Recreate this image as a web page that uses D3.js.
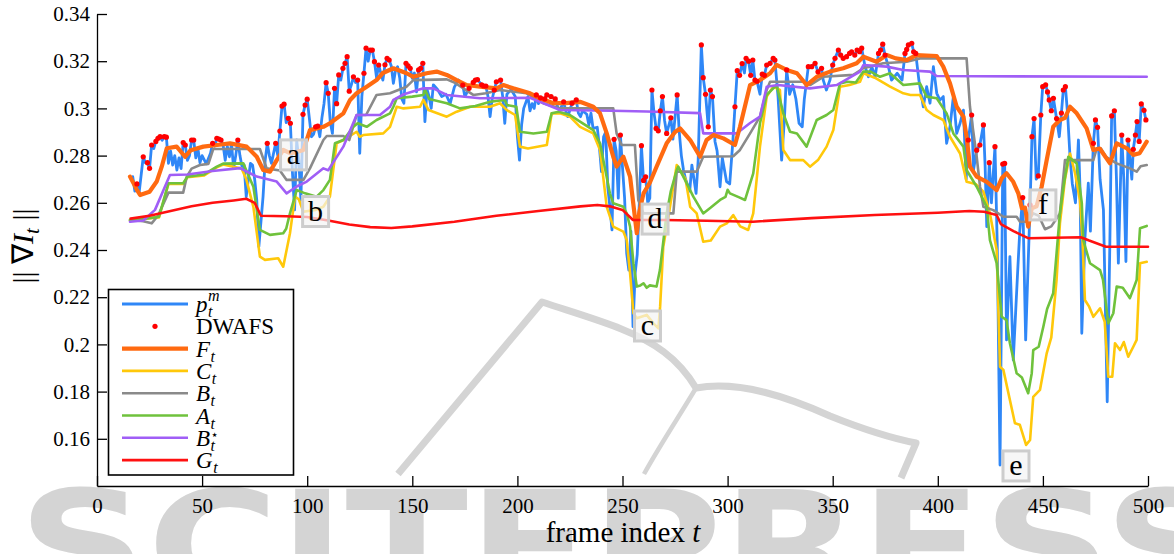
<!DOCTYPE html>
<html>
<head>
<meta charset="utf-8">
<script src="https://cdn.jsdelivr.net/npm/d3@7"></script>
<style>
  html, body { margin: 0; padding: 0; background: #fff; overflow: hidden; }
  svg { display: block; }
</style>
</head>
<body>
<svg id="chart" width="1174" height="554"></svg>
<script>
// ---------------- data ----------------
const frameTicks = [0, 50, 100, 150, 200, 250, 300, 350, 400, 450, 500];
const valueTicks = [0.16, 0.18, 0.2, 0.22, 0.24, 0.26, 0.28, 0.3, 0.32, 0.34];

// per-frame maximum p_t^m  [frame, value]
const seriesP = [
  [17,.2711],[18,.2650],[19,.2680],[20,.2640],[22,.2795],[23,.2770],[24,.2770],[25,.2746],[26,.2845],[27,.2830],
  [28,.2860],[29,.2873],[30,.2880],[31,.2865],[32,.2880],[33,.2878],[34,.2767],[35,.2820],[36,.2760],[37,.2800],
  [38,.2739],[39,.2790],[40,.2745],[41,.2855],[42,.2845],[43,.2780],[44,.2800],[45,.2866],[46,.2866],[47,.2790],
  [48,.2830],[49,.2770],[50,.2800],[52,.2765],[54,.2810],[55,.2852],[56,.2840],[57,.2873],[58,.2870],[59,.2866],
  [60,.2845],[61,.2780],[62,.2840],[63,.2795],[64,.2850],[65,.2745],[66,.2800],[67,.2866],[68,.2800],[69,.2753],
  [70,.2760],[71,.2626],[72,.2700],[73,.2767],[74,.2760],[75,.2700],[76,.2612],[77,.2414],[78,.2520],[79,.2626],
  [80,.2780],[81,.2852],[82,.2800],[83,.2767],[84,.2810],[85,.2852],[86,.2800],[87,.2904],[88,.3010],[89,.3018],
  [90,.2940],[91,.2958],[92,.2937],[93,.2725],[94,.2570],[95,.2866],[96,.2780],[97,.2612],[98,.2975],[99,.3014],
  [100,.3039],[101,.2960],[102,.2880],[103,.2890],[104,.2922],[105,.2925],[106,.2880],[107,.2960],[108,.3020],[109,.3109],
  [110,.3064],[111,.2940],[112,.2894],[113,.3085],[114,.3020],[115,.3142],[116,.3120],[117,.3170],[118,.3191],[119,.3219],
  [120,.3073],[121,.3100],[122,.3134],[123,.3110],[124,.3120],[125,.2810],[126,.3050],[127,.3149],[128,.3255],[129,.3200],
  [130,.3247],[131,.3247],[132,.3198],[133,.3130],[134,.3184],[135,.3150],[136,.3120],[137,.3185],[138,.3212],[139,.3205],
  [140,.3180],[141,.3106],[142,.3160],[143,.3177],[144,.3130],[145,.3040],[146,.3022],[147,.3191],[148,.3180],[149,.3170],
  [150,.3127],[151,.3150],[152,.3070],[153,.3163],[154,.3170],[155,.3191],[156,.2944],[157,.3080],[158,.3050],[159,.3000],
  [160,.3100],[162,.3080],[164,.3050],[166,.3060],[168,.3020],[170,.3090],[172,.3120],[174,.3099],[175,.3050],[177,.3085],
  [179,.3110],[180,.3120],[181,.3122],[183,.3100],[184,.3095],[185,.3095],[186,.3050],[187,.2965],[188,.3040],[189,.3078],
  [190,.3113],[192,.3120],[193,.3050],[194,.2937],[195,.3060],[197,.3080],[199,.3050],[200,.2880],[201,.2781],[202,.2930],
  [203,.3000],[205,.3050],[206,.2990],[207,.3020],[208,.3000],[209,.3057],[210,.3020],[211,.3045],[213,.3040],[214,.3057],
  [216,.3050],[218,.3040],[219,.3010],[220,.2990],[222,.3028],[223,.2990],[224,.2965],[226,.3022],[228,.3036],[229,.2980],
  [230,.2965],[231,.2990],[233,.2975],[234,.2930],[235,.2980],[236,.2915],[238,.2920],[239,.2838],[240,.2732],[241,.2880],
  [242,.2900],[243,.2668],[244,.2583],[245,.2485],[246,.2869],[247,.2820],[248,.2620],[249,.2887],[250,.2750],[251,.2620],
  [252,.2386],[253,.2315],[254,.2480],[255,.2075],[256,.2300],[257,.2380],[258,.2600],[259,.2842],[260,.2695],[261,.2710],
  [262,.2600],[263,.2620],[264,.3078],[265,.2980],[266,.2915],[267,.2905],[268,.2990],[269,.3050],[270,.2950],[271,.2894],
  [273,.2960],[274,.2870],[276,.3057],[277,.2900],[278,.2800],[279,.2740],[280,.2700],[282,.2650],[283,.2760],[285,.2640],
  [286,.2780],[287.5,.3269],[288.4,.3130],[289.5,.3060],[290.8,.2922],[291.8,.3078],[292.8,.3050],[294,.2860],[295,.2820],[296.4,.2668],
  [297.5,.2790],[298.5,.2740],[299.5,.2690],[301,.2680],[302.5,.2860],[303.5,.3007],[304.6,.3160],[305.7,.3140],[306.9,.3190],[308,.3150],
  [308.8,.3212],[310,.3200],[311,.3140],[312,.3205],[313,.3120],[314,.3115],[315.4,.3060],[316.5,.3145],[317.5,.3140],[318.6,.3184],
  [320.2,.3191],[321.7,.3212],[322.5,.3205],[324,.3050],[325.7,.2781],[327,.2950],[328.1,.3163],[329.5,.3060],[331,.3100],[332.5,.3040],
  [334,.2937],[335.5,.2922],[336.5,.3040],[338.4,.3177],[340,.3177],[341.6,.3191],[343,.3155],[344.7,.3170],[345.5,.3120],[347,.3078],
  [348.7,.3120],[350,.3184],[351.1,.3212],[352.7,.3247],[353.8,.3226],[355,.3212],[356.6,.3219],[358,.3233],[359,.3240],[360.5,.3226],
  [361.6,.3247],[362.8,.3240],[363.8,.3255],[365.4,.3177],[367,.3134],[368.6,.3177],[370.2,.3134],[371.8,.3233],[372.8,.3247],[373.8,.3272],
  [374.9,.3226],[376.5,.3177],[378,.3120],[380.7,.3149],[383,.3120],[384.4,.3233],[385.2,.3250],[386,.3269],[387.6,.3276],[388.5,.3240],
  [389.5,.3233],[391,.3120],[393.1,.3007],[394.7,.3092],[396.3,.3022],[397.9,.3177],[399.5,.3064],[401,.3035],[402.6,.3050],[404.2,.2852],
  [405.8,.2922],[407.4,.3050],[409,.2894],[410.6,.2937],[412.2,.2993],[413.5,.2700],[414.5,.2866],[416.1,.2972],[417,.2740],[418.5,.2823],
  [420,.2845],[421.7,.2930],[422.5,.2760],[423.3,.2499],[424.5,.2770],[425.5,.2600],[427.2,.2838],[428.3,.2414],[429.6,.1489],[430.9,.2764],
  [431.8,.2767],[432.7,.2019],[434.3,.2372],[435.9,.1934],[438,.2310],[439,.2480],[440.4,.2622],[441.8,.2019],[443.9,.2591],[444.8,.2880],
  [445.8,.2957],[446.8,.2700],[447.8,.2714],[449,.2972],[449.9,.3092],[451.3,.3100],[452.2,.3070],[453,.3036],[454,.2990],[455,.3043],
  [456.5,.2957],[457.8,.2880],[458.8,.2980],[459.7,.3078],[460.7,.3092],[461.8,.2970],[462.9,.2795],[464,.2680],[465.5,.2600],[466.9,.2866],
  [467.7,.2650],[468.5,.2047],[470,.2450],[471.6,.2683],[472.6,.2480],[474,.2852],[475,.2951],[476,.2920],[477.2,.2700],[478.8,.2570],
  [480.6,.1757],[481.8,.2400],[482.7,.2968],[484,.2990],[485,.2700],[485.9,.2344],[487.5,.2887],[488.5,.2700],[489.5,.2351],[490.5,.2866],
  [491.5,.2780],[492.3,.2700],[493,.2827],[494,.2887],[494.8,.2944],[495.8,.2860],[496.8,.3019],[498.1,.2992],[499,.2951]
];

// frames picked by DWAFS (values taken from p_t^m)
const dwafsFrames = [
  19,22,24,25,26,28,29,30,32,33,41,42,45,46,55,57,58,59,67,81,85,87,88,89,91,92,98,99,100,104,105,109,110,
  113,114,115,117,118,119,120,122,124,127,128,130,131,132,134,137,138,139,147,148,149,153,154,155,174,177,
  179,180,181,183,184,185,189,190,192,209,211,213,214,216,218,222,226,228,246,249,259,260,261,264,266,267,
  268,269,271,273,276,287.5,288.4,289.5,290.8,291.8,292.8,303.5,304.6,305.7,306.9,308.8,310,311,312,313,314,
  316.5,317.5,318.6,320.2,321.7,322.5,328.1,338.4,340,341.6,343,344.7,350,351.1,352.7,353.8,355,356.6,358,
  359,360.5,361.6,362.8,363.8,371.8,372.8,373.8,374.9,384.4,385.2,386,387.6,388.5,389.5,414.5,416.1,418.5,
  420,421.7,424.5,427.2,430.9,431.8,440.4,443.9,444.8,445.8,447.8,449,449.9,451.3,452.2,453,454,455,456.5,
  458.8,459.7,460.7,474,475,476,482.7,484,487.5,490.5,493,494,494.8,495.8,496.8,498.1,499
];

const seriesF = [
  [15.7,.2711],[19,.2655],[20.5,.2633],[25,.2647],[28.4,.2690],[30.8,.2753],[33.2,.2831],[37.9,.2838],[41.9,.2795],[44.6,.2823],
  [50.6,.2838],[57,.2845],[63.3,.2852],[71.2,.2838],[76,.2795],[79.1,.2739],[82.3,.2732],[85.5,.2781],[88.6,.2824],[91.8,.2810],
  [95,.2815],[98.2,.2824],[101.3,.2908],[107.7,.2922],[110.8,.2937],[117.2,.2979],[120.4,.3036],[123.5,.3064],[128.3,.3092],[133,.3120],
  [136,.3150],[141,.3170],[147.3,.3149],[150.5,.3134],[156.8,.3149],[161.6,.3156],[166.4,.3142],[171.1,.3120],[175.9,.3099],[182.2,.3092],
  [190,.3085],[193.3,.3099],[198,.3085],[206,.3064],[210.8,.3043],[217.1,.3022],[223,.3022],[229.8,.3028],[236.1,.3007],[239.3,.2979],
  [242.5,.2894],[245.6,.2795],[247.2,.2753],[250.4,.2795],[253.6,.2711],[256.8,.2471],[258,.2560],[260,.2640],[263,.2685],[266.2,.2753],
  [271,.2852],[275,.2900],[277.4,.2915],[282.2,.2866],[286.9,.2795],[290,.2866],[293.2,.2887],[298,.2873],[303.5,.2845],[305.9,.2922],
  [310.7,.3099],[315.4,.3120],[320.2,.3149],[323.3,.3184],[328.1,.3163],[333,.3149],[337.6,.3099],[342.4,.3134],[348.7,.3156],[355,.3170],
  [361.4,.3191],[364.6,.3219],[370.9,.3198],[375.7,.3226],[380,.3212],[385.2,.3205],[389.8,.3226],[399.5,.3222],[402.6,.3177],[405.8,.3106],
  [409,.3007],[412.2,.2965],[413.7,.2880],[415.3,.2753],[418.5,.2711],[423.3,.2689],[428,.2654],[430.4,.2704],[432.7,.2725],[435.9,.2689],
  [438.3,.2640],[440,.2577],[441.5,.2580],[443,.2499],[444.7,.2577],[447,.2585],[449.4,.2668],[451.8,.2781],[454.9,.2922],[458.1,.2951],
  [460.5,.2960],[462.9,.3007],[466.1,.2979],[470.8,.2915],[474,.2824],[477,.2830],[481.9,.2767],[485.1,.2852],[490,.2831],[493,.2803],
  [496,.2810],[499.4,.2859]
];

const seriesC = [
  [15.7,.2525],[25,.2535],[29.5,.2538],[34,.2680],[41,.2680],[43,.2708],[51,.2716],[57,.2750],[60,.2762],[68.8,.2745],
  [71,.2700],[74.4,.2583],[77.5,.2372],[79.9,.2358],[86.2,.2365],[88.6,.2329],[91.8,.2471],[94.2,.2626],[96,.2615],[98.2,.2562],
  [104,.2570],[107.7,.2583],[110.8,.2626],[114,.2852],[117.2,.2866],[123.5,.2901],[125,.2880],[126.7,.2887],[136.2,.2894],[139.4,.2922],
  [142.6,.3007],[145.8,.3000],[153.7,.3007],[155.3,.3036],[157.7,.2993],[166.4,.2965],[171.1,.2986],[177.5,.3007],[187,.3007],[191.7,.3022],
  [195,.2993],[198.9,.2972],[201.2,.2838],[205,.2830],[214,.2845],[216.3,.2979],[220.3,.2979],[225,.2965],[229.8,.2922],[236.1,.2894],
  [239.3,.2824],[242.5,.2583],[245.6,.2499],[250.4,.2478],[252,.2442],[253.6,.2301],[255.2,.2132],[256.8,.2111],[261.5,.2125],[264.7,.2089],
  [267.1,.2068],[267.9,.2160],[269.4,.2414],[272.6,.2583],[275.8,.2760],[280,.2700],[282.2,.2583],[285.3,.2555],[288.4,.2435],[292,.2440],
  [296.4,.2499],[299.6,.2513],[302.7,.2548],[306,.2500],[309.8,.2485],[312.2,.2555],[315.4,.2838],[318.6,.3050],[321.7,.3092],[324.9,.3078],
  [326.5,.2824],[329.7,.2781],[336,.2781],[339.2,.2753],[343,.2781],[347.1,.2838],[350.3,.2908],[353.5,.3092],[358,.3099],[363,.3113],
  [364.6,.3149],[370,.3130],[377.3,.3092],[383.6,.3064],[387,.3057],[391.5,.3057],[394.7,.2993],[397.9,.2972],[402.6,.2951],[405.8,.2880],
  [410.6,.2809],[413.7,.2689],[418,.2680],[421.7,.2647],[424.8,.2555],[428,.2400],[429.6,.1905],[431.2,.1892],[434.3,.1764],[436.7,.1666],
  [439,.1660],[442,.1574],[443.9,.1595],[445.4,.1778],[448.6,.1807],[451.8,.1962],[454,.2030],[456.5,.2273],[458.1,.2513],[460.5,.2700],
  [462.9,.2809],[465.3,.2725],[467.6,.2612],[468.8,.2450],[470,.2188],[472,.2160],[474,.2117],[477.2,.2153],[479.4,.2096],[481.1,.1863],
  [483,.1863],[484.3,.2005],[486.7,.1976],[488.5,.2010],[490.6,.1948],[493,.1990],[494.6,.2019],[496.2,.2344],[499.4,.2350]
];

const seriesB = [
  [15.7,.2527],[22,.2522],[26,.2513],[29,.2545],[34,.2643],[41,.2643],[42.7,.2711],[45,.2745],[49,.2760],[53,.2765],
  [55.3,.2828],[77.5,.2828],[80.7,.2746],[87,.2737],[90.2,.2697],[98.2,.2697],[101.3,.2746],[107.7,.2866],[109.3,.2883],[117.2,.2883],
  [120,.2866],[123.5,.2972],[128,.2972],[133,.3057],[139.4,.3064],[147.3,.3092],[150.5,.3120],[166.4,.3123],[170,.3110],[179,.3057],
  [185,.3064],[191.7,.3078],[204.4,.3064],[212.3,.3022],[220.3,.3000],[245.6,.3000],[247.2,.2894],[249.6,.2845],[255.9,.2845],[257.5,.2612],
  [260,.2555],[274.2,.2555],[275.8,.2732],[285.3,.2732],[288.4,.2795],[302.7,.2797],[305.9,.2824],[310.7,.2894],[315.4,.2965],[318.6,.3078],
  [320.2,.3113],[336,.3113],[339.2,.3099],[345.5,.3134],[359.8,.3142],[364.6,.3170],[374,.3191],[385.2,.3198],[391.5,.3212],[413.7,.3212],
  [415.3,.3007],[418.5,.2795],[420.1,.2668],[421.7,.2583],[426.4,.2569],[431.2,.2541],[437.5,.2541],[439.1,.2520],[443,.2520],[445.4,.2555],
  [448,.2545],[451,.2488],[454,.2500],[458.1,.2555],[460.5,.2781],[474,.2781],[475.6,.2831],[477.5,.2831],[480,.2795],[485.1,.2767],
  [491.4,.2746],[494.6,.2732],[496.5,.2755],[499.4,.2760]
];

const seriesA = [
  [15.7,.2527],[25,.2535],[29.5,.2541],[34,.2683],[41,.2683],[43,.2711],[51,.2720],[57,.2753],[60,.2766],[69.6,.2767],
  [71,.2738],[74.4,.2668],[77.5,.2485],[82.3,.2464],[88.6,.2471],[90,.2490],[91.8,.2555],[95,.2654],[99,.2640],[104.5,.2626],
  [107.7,.2654],[110.8,.2697],[113.2,.2852],[117.2,.2866],[122,.2922],[124,.2937],[128.3,.2922],[133,.2951],[139.4,.2979],[141,.3007],
  [142.6,.3043],[150,.3050],[155.3,.3057],[156,.3080],[158,.3040],[166.4,.3022],[172.7,.3000],[180,.3010],[187,.3028],[194,.3036],
  [195,.3014],[199.5,.3007],[201.2,.2901],[207.6,.2894],[214,.2901],[216.3,.2979],[219.7,.2986],[225,.2972],[229.8,.2944],[236.1,.2908],
  [239.3,.2852],[244,.2640],[245.6,.2598],[250.4,.2583],[252,.2555],[253.6,.2499],[255.2,.2344],[256.8,.2245],[258.5,.2250],[260,.2259],
  [261.5,.2240],[263,.2250],[266.2,.2245],[267.8,.2315],[271,.2555],[273,.2650],[275.8,.2739],[276.5,.2753],[280.5,.2683],[283.7,.2626],
  [288.4,.2555],[292,.2580],[296.4,.2612],[299,.2625],[300,.2655],[301.1,.2640],[305,.2625],[308.3,.2612],[312.2,.2725],[315.4,.2937],
  [318.6,.3057],[323.3,.3099],[326.5,.2979],[329.7,.2901],[333,.2894],[337.6,.2838],[342.4,.2951],[347.1,.2972],[350.3,.2993],[353.5,.3106],
  [357,.3113],[361,.3110],[364.6,.3156],[368,.3156],[372.5,.3134],[377.3,.3149],[383.6,.3099],[391.5,.3106],[394.7,.3050],[399.5,.3043],
  [404.2,.2979],[407.4,.2894],[412.2,.2838],[413.7,.2739],[418.5,.2668],[423.3,.2583],[424.8,.2442],[428,.2344],[430.4,.2117],[432.7,.2103],
  [434.3,.2005],[437.5,.1878],[440,.1860],[443,.1793],[444.7,.1878],[445.4,.1976],[448,.1990],[450.2,.2075],[452,.2150],[454.9,.2217],
  [456.5,.2386],[458.1,.2555],[460,.2680],[462.1,.2795],[466.1,.2767],[468.5,.2600],[469.2,.2442],[472.4,.2344],[477.2,.2315],[478.6,.2273],
  [481.1,.2089],[483.5,.2132],[485.1,.2245],[488,.2240],[491.4,.2196],[494.6,.2273],[496.2,.2492],[499.4,.2502]
];

const seriesBstar = [
  [15.7,.2520],[22,.2525],[27.6,.2570],[34.7,.2718],[43,.2720],[55,.2735],[68,.2747],[76,.2711],[85.5,.2690],[90.2,.2640],
  [95,.2669],[99.8,.2690],[107.7,.2746],[110,.2738],[117.2,.2838],[123.5,.2972],[134.6,.2972],[139.4,.3007],[141,.3036],[146,.3060],
  [155.3,.3085],[160,.3085],[166.4,.3057],[182.2,.3043],[206,.3045],[220.3,.2993],[245,.2990],[261.5,.2987],[286.9,.2980],[288.4,.2894],
  [304.3,.2894],[310.7,.2938],[315.4,.2965],[318.6,.3092],[324,.3099],[339.2,.3085],[351.9,.3099],[363,.3156],[364.6,.3184],[375.7,.3177],
  [383.6,.3163],[396.3,.3156],[399.5,.3137],[499.4,.3134]
];

const seriesG = [
  [16,.2533],[25,.2545],[35,.2565],[45,.2585],[55,.2600],[65,.2610],[71,.2617],[75,.2600],[78,.2545],[90,.2543],
  [100,.2540],[110,.2525],[120,.2508],[130,.2497],[140,.2493],[150,.2500],[170,.2520],[190,.2545],[210,.2565],[230,.2585],
  [238,.2591],[244,.2585],[250,.2570],[255,.2527],[270,.2527],[290,.2524],[312,.2520],[340,.2535],[370,.2548],[400,.2558],
  [415,.2565],[422,.2562],[428,.2548],[430,.2510],[436,.2480],[443,.2450],[468,.2454],[472,.2440],[480,.2414],[500,.2414]
];

// marked events: letter, frame, value
const eventLetters = ["a", "b", "c", "d", "e", "f"];
const eventFrames  = [93.5, 104, 261.9, 265.5, 437.2, 450];
const eventValues  = [0.2803, 0.2563, 0.2078, 0.2531, 0.1485, 0.2591];

// legend entries: base symbol, subscript, superscript
const legendBase = ["p", "DWAFS", "F", "C", "B", "A", "B", "G"];
const legendSub  = ["t", "", "t", "t", "t", "t", "t", "t"];
const legendSup  = ["m", "", "", "", "", "", "\u22C6", ""];

// ---------------- layout & style ----------------
const W = 1174, H = 554;
const plot = { left: 97, right: 1148, top: 14, bottom: 486 };
const serif = "'Liberation Serif', 'Times New Roman', serif";
const colors = {
  P: "#2f87f7", F: "#ff6a10", C: "#ffc80a", B: "#8a8a8a",
  A: "#6fc23c", Bstar: "#a05ef6", G: "#ff1010", dot: "#ff0000"
};

const svg = d3.select("#chart");
svg.append("rect").attr("width", W).attr("height", H).attr("fill", "#fff");

const x = d3.scaleLinear().domain([0, 500]).range([plot.left, plot.right]);
const y = d3.scaleLinear().domain([0.14, 0.34]).range([plot.bottom, plot.top]);

// ---------------- publisher watermark ----------------
const wm = svg.append("g").attr("fill", "none").attr("stroke", "#d4d4d4");
wm.append("path")
  .attr("stroke-width", 7)
  .attr("stroke-linejoin", "round")
  .attr("d", "M398,474 L542,302 C590,318 636,330 664,352 C680,364 690,378 696,388 C740,380 790,398 830,416 C860,428 890,438 916,443 L901,478");
wm.append("path")
  .attr("stroke-width", 4.5)
  .attr("d", "M696,388 C680,415 660,445 644,474");
svg.append("text")
  .attr("x", 18).attr("y", 598)
  .attr("textLength", 1215).attr("lengthAdjust", "spacingAndGlyphs")
  .attr("font-family", "'DejaVu Sans', sans-serif")
  .attr("font-weight", "bold")
  .attr("font-size", 150)
  .attr("fill", "#d4d4d4")
  .text("SCITEPRESS");

// ---------------- series ----------------
const line = d3.line().x(d => x(d[0])).y(d => y(d[1]));
const lines = svg.append("g").attr("fill", "none")
  .attr("stroke-linejoin", "round").attr("stroke-linecap", "round");

function drawSeries(data, color, width) {
  lines.append("path").datum(data)
    .attr("d", line).attr("stroke", color).attr("stroke-width", width);
}
drawSeries(seriesP, colors.P, 2.8);
drawSeries(seriesC, colors.C, 2.6);
drawSeries(seriesB, colors.B, 2.6);
drawSeries(seriesA, colors.A, 2.6);
drawSeries(seriesBstar, colors.Bstar, 2.6);
drawSeries(seriesF, colors.F, 4.2);
drawSeries(seriesG, colors.G, 2.6);

const pByFrame = new Map(seriesP.map(d => [d[0], d[1]]));
const dwafsPoints = dwafsFrames.filter(f => pByFrame.has(f)).map(f => [f, pByFrame.get(f)]);
svg.append("g").selectAll("circle").data(dwafsPoints).join("circle")
  .attr("cx", d => x(d[0])).attr("cy", d => y(d[1]))
  .attr("r", 2.6).attr("fill", colors.dot);

// ---------------- event markers ----------------
const ev = svg.append("g");
eventLetters.forEach((letter, i) => {
  const cx = x(eventFrames[i]), cy = y(eventValues[i]);
  ev.append("rect")
    .attr("x", cx - 13).attr("y", cy - 15).attr("width", 26).attr("height", 30)
    .attr("fill", "#f4f4f4").attr("fill-opacity", 0.7)
    .attr("stroke", "#cdcdcd").attr("stroke-width", 3);
  ev.append("text")
    .attr("x", cx).attr("y", cy + 9)
    .attr("text-anchor", "middle")
    .attr("font-family", serif).attr("font-size", 30)
    .attr("fill", "#000")
    .text(letter);
});

// ---------------- axes ----------------
const fmt = d => String(+d.toFixed(2));
const yAxis = svg.append("g")
  .attr("transform", `translate(${plot.left},0)`)
  .call(d3.axisLeft(y).tickValues(valueTicks).tickFormat(fmt)
    .tickSizeInner(-10).tickSizeOuter(0).tickPadding(7));
const xAxis = svg.append("g")
  .attr("transform", `translate(0,${plot.bottom})`)
  .call(d3.axisBottom(x).tickValues(frameTicks).tickFormat(d => String(d))
    .tickSizeInner(-10).tickSizeOuter(0).tickPadding(12));
[yAxis, xAxis].forEach(a => {
  a.selectAll("path, line").attr("stroke", "#000").attr("stroke-width", 1.3);
  a.selectAll("text").attr("font-family", serif).attr("font-size", 21).attr("fill", "#000");
});

// x-axis title
const xt = svg.append("text")
  .attr("x", 623).attr("y", 542)
  .attr("text-anchor", "middle")
  .attr("font-family", serif).attr("font-size", 29).attr("fill", "#000");
xt.append("tspan").text("frame index ");
xt.append("tspan").attr("font-style", "italic").text("t");

// y-axis title
const yt = svg.append("text")
  .attr("transform", "translate(33,246) rotate(-90)")
  .attr("text-anchor", "middle")
  .attr("font-family", serif).attr("font-size", 30).attr("fill", "#000");
yt.append("tspan").text("|| \u2207");
yt.append("tspan").attr("font-style", "italic").text("I");
yt.append("tspan").attr("font-style", "italic").attr("font-size", 21).attr("dy", 6).text("t");
yt.append("tspan").attr("dy", -6).text(" ||");

// ---------------- legend ----------------
const lg = svg.append("g");
lg.append("rect")
  .attr("x", 108.5).attr("y", 289.5).attr("width", 185).attr("height", 185.5)
  .attr("fill", "#fff").attr("stroke", "#000").attr("stroke-width", 1.6);

const legendColors = [colors.P, colors.dot, colors.F, colors.C, colors.B, colors.A, colors.Bstar, colors.G];
const legendWidths = [2.8, 0, 4.2, 2.6, 2.6, 2.6, 2.6, 2.6];
legendBase.forEach((base, i) => {
  const ry = 304 + i * 22.3;
  if (legendWidths[i] > 0) {
    lg.append("line")
      .attr("x1", 122).attr("x2", 188).attr("y1", ry).attr("y2", ry)
      .attr("stroke", legendColors[i]).attr("stroke-width", legendWidths[i]);
  } else {
    lg.append("circle").attr("cx", 155).attr("cy", ry).attr("r", 2.6).attr("fill", legendColors[i]);
  }
  const italic = legendSub[i] !== "";
  const t = lg.append("text")
    .attr("x", 196).attr("y", ry + 8)
    .attr("font-family", serif).attr("font-size", 23).attr("fill", "#000")
    .attr("font-style", italic ? "italic" : "normal")
    .text(base);
  const w = t.node().getComputedTextLength();
  if (legendSub[i]) {
    lg.append("text")
      .attr("x", 196 + w + 0.5).attr("y", ry + 13)
      .attr("font-family", serif).attr("font-size", 16).attr("font-style", "italic")
      .attr("fill", "#000").text(legendSub[i]);
  }
  if (legendSup[i]) {
    const star = legendSup[i] === "\u22C6";
    lg.append("text")
      .attr("x", 196 + w + 0.5).attr("y", star ? ry + 1 : ry - 3)
      .attr("font-family", star ? "'DejaVu Sans', sans-serif" : serif)
      .attr("font-size", star ? 13 : 16).attr("font-style", star ? "normal" : "italic")
      .attr("fill", "#000").text(legendSup[i]);
  }
});
</script>
</body>
</html>
